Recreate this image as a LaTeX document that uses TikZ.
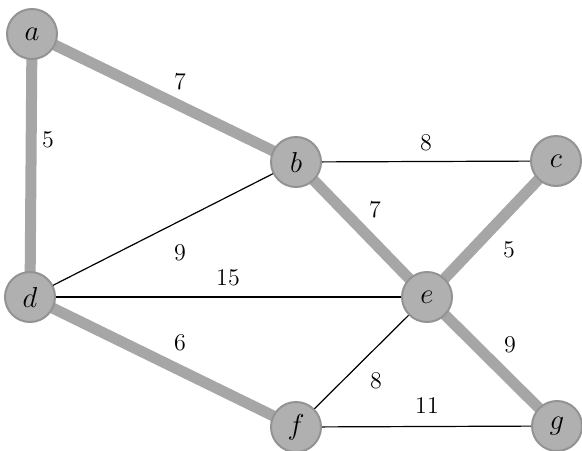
\documentclass[tikz,border=0pt]{standalone}
\begin{document}
\begin{tikzpicture}[x=0.5pt,y=-0.5pt,
  vtx/.style={circle,minimum size=25pt,inner sep=0pt,fill=gray!62,draw=gray!85,line width=1pt,font=\Large},
  mst/.style={line width=5.5pt,gray!70},
  plain/.style={line width=0.6pt,black},
  wt/.style={font=\large}]
\useasboundingbox (0,0) rectangle (582,450);
\coordinate (pa) at (32,34);
\coordinate (pb) at (296,162);
\coordinate (pc) at (556,161);
\coordinate (pd) at (30,297);
\coordinate (pe) at (427,297);
\coordinate (pf) at (296,427);
\coordinate (pg) at (557,426);
% plain edges
\draw[plain] (pb) -- (pc);
\draw[plain] (pb) -- (pd);
\draw[plain] (pd) -- (pe);
\draw[plain] (pe) -- (pf);
\draw[plain] (pf) -- (pg);
% mst edges
\draw[mst] (pa) -- (pb);
\draw[mst] (pa) -- (pd);
\draw[mst] (pb) -- (pe);
\draw[mst] (pc) -- (pe);
\draw[mst] (pd) -- (pf);
\draw[mst] (pe) -- (pg);
% vertices
\node[vtx] (a) at (pa) {$a$};
\node[vtx] (b) at (pb) {$b$};
\node[vtx] (c) at (pc) {$c$};
\node[vtx] (d) at (pd) {$d$};
\node[vtx] (e) at (pe) {$e$};
\node[vtx] (f) at (pf) {$f$};
\node[vtx] (g) at (pg) {$g$};
% weights
\node[wt] (w1) at (180,82) {7};
\node[wt] (w2) at (48,140) {5};
\node[wt] (w3) at (426,143) {8};
\node[wt] (w4) at (375,210) {7};
\node[wt] (w5) at (180,253) {9};
\node[wt] (w6) at (228,278) {15};
\node[wt] (w7) at (509,250) {5};
\node[wt] (w8) at (180,343) {6};
\node[wt] (w9) at (510,345) {9};
\node[wt] (w10) at (376,381) {8};
\node[wt] (w11) at (427,406) {11};
\end{tikzpicture}
\end{document}
